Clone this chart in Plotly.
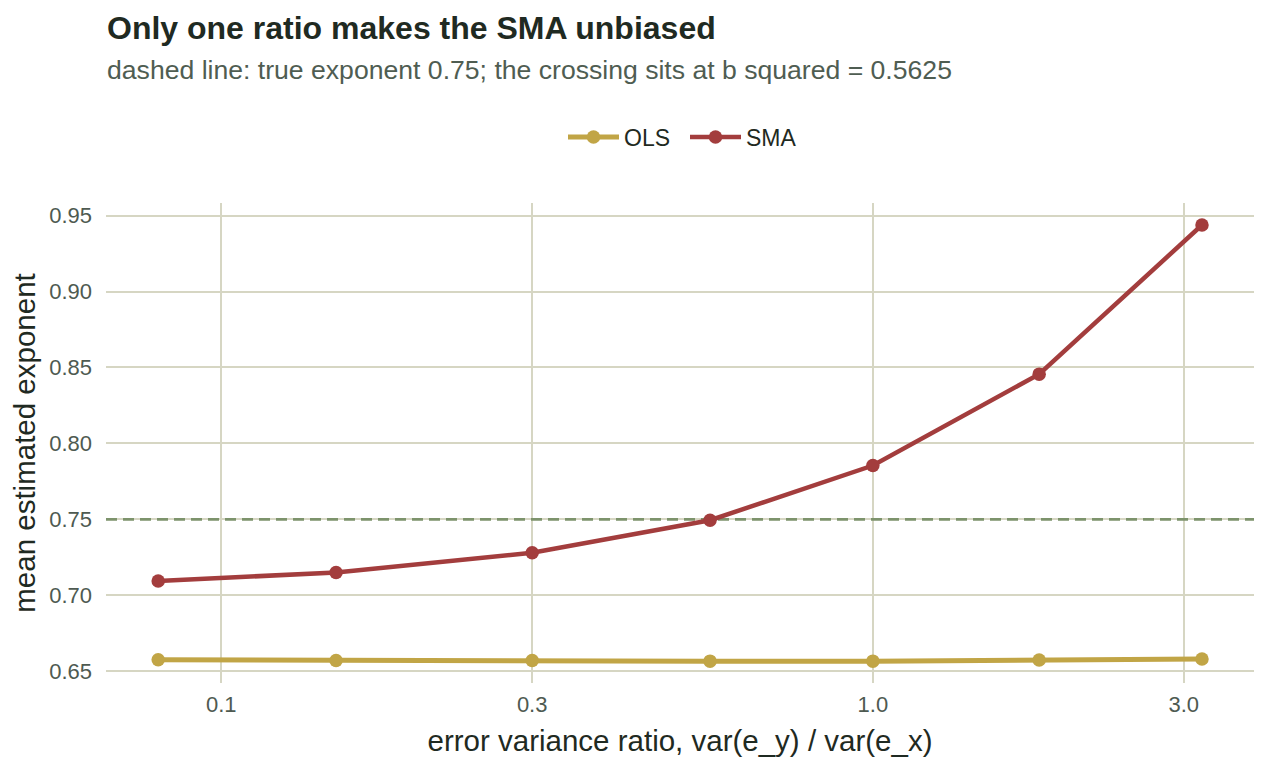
import plotly.graph_objects as go

ratio = [0.08, 0.15, 0.3, 0.5625, 1.0, 1.8, 3.2]
ols = [0.6575, 0.6570, 0.6570, 0.6566, 0.6566, 0.6574, 0.6580]
sma = [0.7094, 0.7150, 0.7280, 0.7494, 0.7854, 0.8456, 0.9438]
true_exponent = 0.75
x_ticks = [0.1, 0.3, 1.0, 3.0]
x_ticktext = ["0.1", "0.3", "1.0", "3.0"]
y_ticks = [0.65, 0.70, 0.75, 0.80, 0.85, 0.90, 0.95]

x_range_log = [-1.177, 0.585]
y_range = [0.6422, 0.9583]

FONT = "Liberation Sans, Arial, Helvetica, sans-serif"
GRID = "#d6d6c3"
TICKC = "#4e5a51"
TITLEC = "#1f2a22"

fig = go.Figure()
# reference line for the true exponent, spanning the whole x range
fig.add_trace(go.Scatter(x=[10 ** v for v in x_range_log], y=[true_exponent, true_exponent],
                         mode="lines", showlegend=False, hoverinfo="skip",
                         line=dict(color="#7d936c", width=2.8, dash="11px,6px")))
fig.add_trace(go.Scatter(x=ratio, y=ols, mode="lines+markers", name="OLS",
                         line=dict(color="#c1a546", width=5),
                         marker=dict(size=13.5, color="#c1a546")))
fig.add_trace(go.Scatter(x=ratio, y=sma, mode="lines+markers", name="SMA",
                         line=dict(color="#a33d3d", width=4.5),
                         marker=dict(size=13.5, color="#a33d3d")))

plot_h = 768 - 203 - 85

fig.update_layout(
    width=1267, height=768,
    margin=dict(l=106, r=13, t=203, b=85),
    paper_bgcolor="white", plot_bgcolor="white",
    font=dict(family=FONT, color=TICKC),
    showlegend=True,
    legend=dict(orientation="h", x=0.5 + 5 / 1148, xanchor="center", y=1 + 66 / plot_h,
                yanchor="middle", font=dict(size=23, color=TITLEC, family=FONT), itemwidth=51,
                entrywidth=56, tracegroupgap=0),
    annotations=[
        dict(text="<b>Only one ratio makes the SMA unbiased</b>", xref="paper", yref="paper",
             x=0, y=1 + (203 - 28) / plot_h, xanchor="left", yanchor="middle", showarrow=False,
             xshift=-1, font=dict(size=32, color=TITLEC, family=FONT)),
        dict(text="dashed line: true exponent 0.75; the crossing sits at b squared = 0.5625",
             xref="paper", yref="paper", x=0, y=1 + (203 - 70) / plot_h, xanchor="left",
             yanchor="middle", showarrow=False, xshift=-1,
             font=dict(size=26.6, color="#4f5d52", family=FONT)),
    ],
    xaxis=dict(type="log", range=x_range_log, tickvals=x_ticks, ticktext=x_ticktext,
               showgrid=True, gridcolor=GRID, gridwidth=1.5, zeroline=False, showline=False,
               ticks="", ticklen=0, ticklabelstandoff=6, tickfont=dict(size=22, color=TICKC),
               title=dict(text="error variance ratio, var(e_y) / var(e_x)", standoff=14,
                          font=dict(size=29.5, color=TITLEC))),
    yaxis=dict(range=y_range, tickvals=y_ticks, tickformat=".2f",
               showgrid=True, gridcolor=GRID, gridwidth=1.5, zeroline=False, showline=False,
               ticks="", ticklabelstandoff=13, tickfont=dict(size=22, color=TICKC),
               title=dict(text="mean estimated exponent", standoff=4,
                          font=dict(size=29.5, color=TITLEC))),
)

fig.write_html("out.html")
